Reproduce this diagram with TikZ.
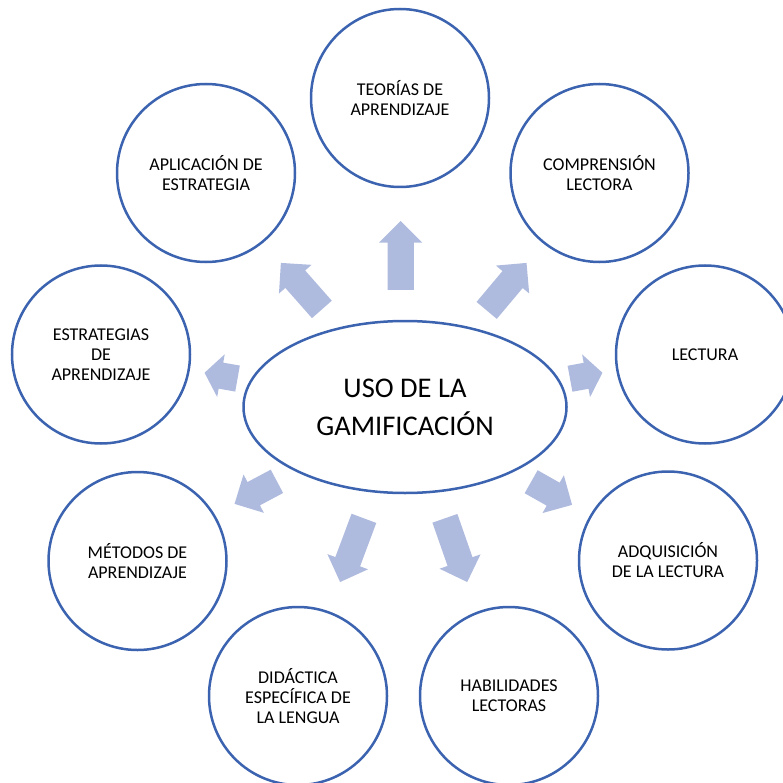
\documentclass[tikz,border=0pt]{standalone}
\usepackage{fontspec}
\setmainfont{Carlito}
\usetikzlibrary{shapes.arrows, shapes.geometric}
\definecolor{ringblue}{RGB}{59,99,175}
\definecolor{arrowfill}{RGB}{175,187,222}

\begin{document}
\begin{tikzpicture}[
    x=1pt, y=-1pt,
    topic/.style={
        circle,
        minimum size=178pt,
        draw=ringblue,
        line width=2.5pt,
        fill=white,
        align=center,
        font=\fontsize{18}{20}\selectfont
    },
    hub/.style={
        ellipse,
        minimum width=323pt,
        minimum height=172pt,
        draw=ringblue,
        line width=2.5pt,
        fill=white,
        align=center,
        font=\fontsize{28.5}{38}\selectfont
    },
    push/.style={
        single arrow,
        fill=arrowfill,
        draw=none,
        inner xsep=0pt,
        inner ysep=13pt,
        single arrow head extend=8.5pt,
        anchor=tip
    }
]
\useasboundingbox (0,0) rectangle (783,783);
\clip (0,0) rectangle (783,783);

% Topics
\node[topic] (teorias) at (400,98) {TEORÍAS DE\\APRENDIZAJE};
\node[topic] (aplicacion) at (206,173) {APLICACIÓN DE\\ESTRATEGIA};
\node[topic] (comprension) at (599.5,173) {COMPRENSIÓN\\LECTORA};
\node[topic] (estrategias) at (101,354.5) {ESTRATEGIAS\\DE\\APRENDIZAJE};
\node[topic] (lectura) at (705,354.5) {LECTURA};
\node[topic] (metodos) at (137.5,561) {MÉTODOS DE\\APRENDIZAJE};
\node[topic] (adquisicion) at (668,560.5) {ADQUISICIÓN\\DE LA LECTURA};
\node[topic] (didactica) at (298,696) {DIDÁCTICA\\ESPECÍFICA DE\\LA LENGUA};
\node[topic] (habilidades) at (509,696) {HABILIDADES\\LECTORAS};

% Centre
\node[hub] (gamificacion) at (405,407) {USO DE LA\\GAMIFICACIÓN};

% Arrows (placed by their tips)
\node[push, minimum height=69pt, rotate=90] (toTeorias) at (400.7,220.7) {};
\node[push, minimum height=62pt, rotate=131.4] (toAplicacion) at (280.7,262.7) {};
\node[push, minimum height=62pt, rotate=50] (toComprension) at (526.7,262.7) {};
\node[push, minimum height=33.5pt, rotate=170, single arrow tip angle=105] (toEstrategias) at (204.3,372.7) {};
\node[push, minimum height=33pt, rotate=10.5, single arrow tip angle=105] (toLectura) at (602.7,372.7) {};
\node[push, minimum height=48pt, rotate=208] (toMetodos) at (234.3,504) {};
\node[push, minimum height=47pt, rotate=-29.5] (toAdquisicion) at (572.3,505) {};
\node[push, minimum height=68pt, rotate=-110.5] (toDidactica) at (340,582.3) {};
\node[push, minimum height=67.5pt, rotate=-70.7] (toHabilidades) at (467.3,582.3) {};

\end{tikzpicture}
\end{document}
